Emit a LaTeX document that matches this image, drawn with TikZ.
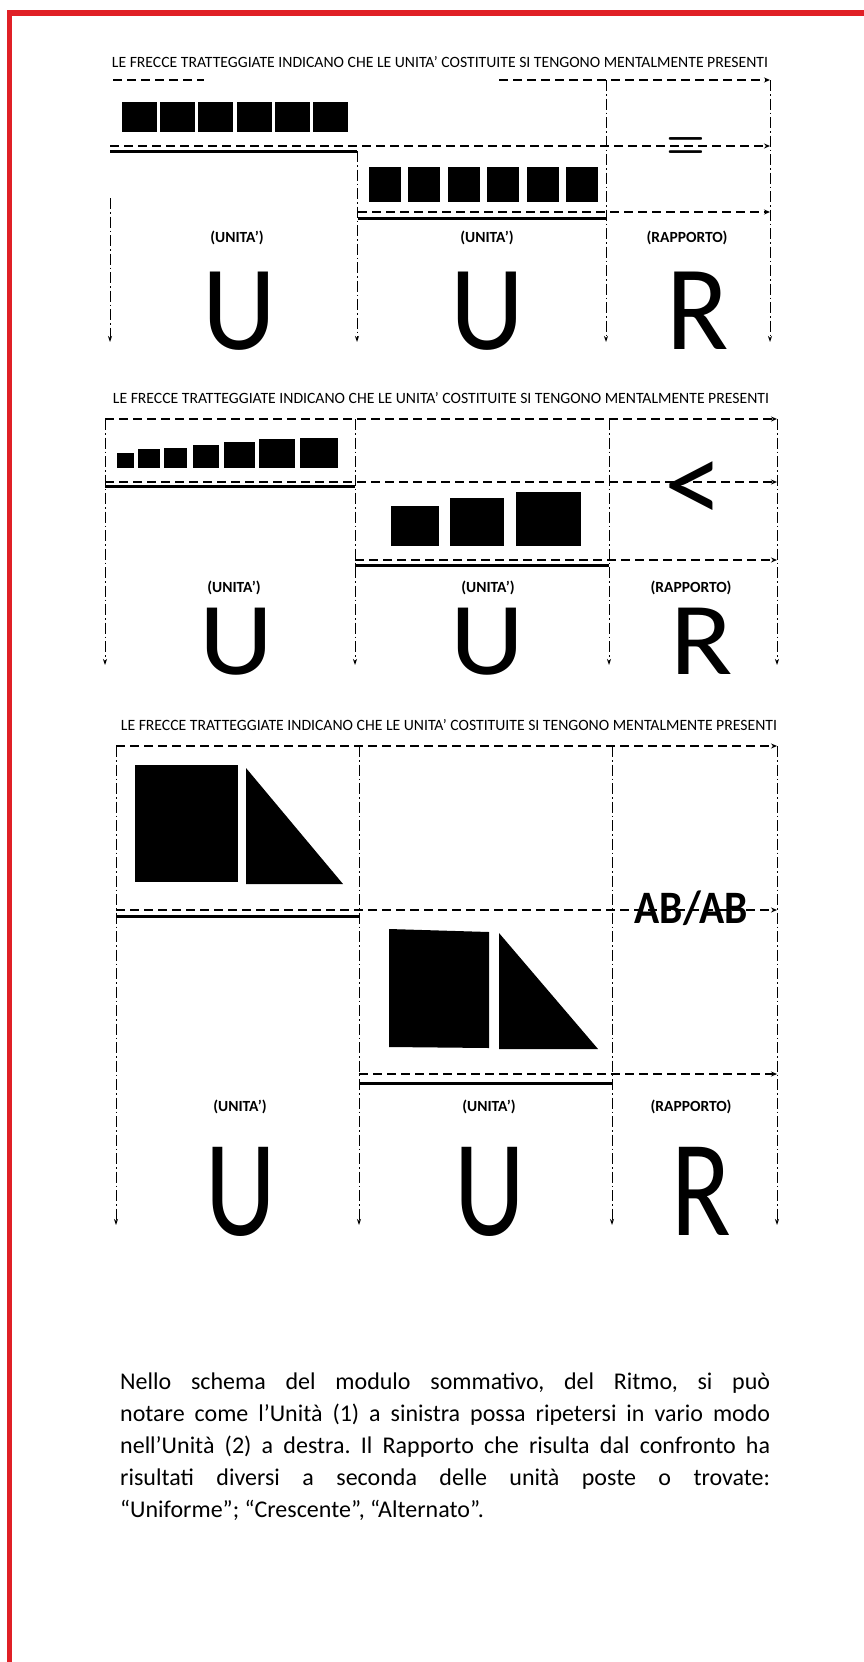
\documentclass[tikz,border=0pt]{standalone}
\usepackage{fontspec}
\setmainfont{Carlito}
\usetikzlibrary{arrows.meta}
\definecolor{framered}{RGB}{224,32,38}
\frenchspacing

\begin{document}
\begin{tikzpicture}[x=1pt, y=-1pt]
    % Define styles
    \tikzstyle{header} = [inner sep=0pt, font=\fontsize{15.7}{16}\selectfont]
    \tikzstyle{caption} = [inner sep=0pt, font=\bfseries\fontsize{15.5}{16}\selectfont]
    \tikzstyle{letter} = [inner sep=0pt, anchor=base, font=\fontsize{115}{115}\selectfont]
    \tikzstyle{block} = [fill=black]
    \tikzstyle{guide} = [line width=1.4pt, dash pattern=on 9pt off 5pt]
    \tikzstyle{guidearrow} = [guide, -{Stealth[length=6pt, width=5pt]}]
    \tikzstyle{colline} = [line width=0.9pt, dash pattern=on 11pt off 3pt on 1.5pt off 3pt, -{Stealth[length=6pt, width=4pt]}]
    \tikzstyle{unitline} = [line width=3pt]

    % Page and red frame
    \path[use as bounding box, fill=white] (0,0) rectangle (864,1662);
    \fill[framered] (7,10) rectangle (864,16);
    \fill[framered] (7,10) rectangle (12,1662);

    % ---------- Scheme 1: uniforme ----------
    \node[header] (head1) at (440,62) {LE FRECCE TRATTEGGIATE INDICANO CHE LE UNITA' COSTITUITE SI TENGONO MENTALMENTE PRESENTI};

    % Columns
    \foreach \n/\x/\ys in {a/110/198, b/357/151, c/606/80, d/770/80} {
        \coordinate (p1\n-top) at (\x,\ys);
        \coordinate (p1\n-bot) at (\x,342);
        \draw[colline] (p1\n-top) -- (p1\n-bot);
    }

    % Dashed lines
    \coordinate (p1-t1) at (113,80);
    \coordinate (p1-t2) at (204,80);
    \coordinate (p1-t3) at (499,80);
    \draw[guide] (p1-t1) -- (p1-t2);
    \draw[guidearrow] (p1-t3) -- (p1d-top);
    \coordinate (p1-m1) at (110,146);
    \coordinate (p1-m2) at (770,146);
    \draw[guidearrow] (p1-m1) -- (p1-m2);
    \coordinate (p1-l1) at (358,212);
    \coordinate (p1-l2) at (770,212);
    \draw[guidearrow] (p1-l1) -- (p1-l2);

    % Unit lines
    \coordinate (p1-s1) at (110,151);
    \coordinate (p1-s2) at (357,151);
    \draw[unitline] (p1-s1) -- (p1-s2);
    \coordinate (p1-b1) at (358,218);
    \coordinate (p1-b2) at (606,218);
    \draw[unitline] (p1-b1) -- (p1-b2);

    % Blocks
    \foreach \i in {0,...,5} {
        \fill[block] ({122+38.2*\i},102) rectangle ++(35,30);
        \fill[block] ({369+39.4*\i},167) rectangle ++(32,35);
    }

    \node[inner sep=0pt, anchor=base] (rel1) at (686,162) {\scalebox{5}[6.8]{$=$}};

    \node[caption] (cap1a) at (237,238) {(UNITA')};
    \node[caption] (cap1b) at (487,238) {(UNITA')};
    \node[caption] (cap1c) at (687,238) {(RAPPORTO)};
    \node[letter] (let1a) at (239,349) {\scalebox{1}[1.05]{U}};
    \node[letter] (let1b) at (487,349) {\scalebox{1}[1.05]{U}};
    \node[letter] (let1c) at (698,349) {\scalebox{1}[1.05]{R}};

    % ---------- Scheme 2: crescente ----------
    \node[header] (head2) at (441,398) {LE FRECCE TRATTEGGIATE INDICANO CHE LE UNITA' COSTITUITE SI TENGONO MENTALMENTE PRESENTI};

    % Columns
    \foreach \n/\x in {a/105, b/355, c/609, d/777} {
        \coordinate (p2\n-top) at (\x,419);
        \coordinate (p2\n-bot) at (\x,665);
        \draw[colline] (p2\n-top) -- (p2\n-bot);
    }

    % Dashed lines
    \draw[guidearrow] (p2a-top) -- (p2d-top);
    \coordinate (p2-m1) at (105,482);
    \coordinate (p2-m2) at (777,482);
    \draw[guidearrow] (p2-m1) -- (p2-m2);
    \coordinate (p2-l1) at (355,560);
    \coordinate (p2-l2) at (777,560);
    \draw[guidearrow] (p2-l1) -- (p2-l2);

    % Unit lines
    \coordinate (p2-s1) at (105,486);
    \coordinate (p2-s2) at (355,486);
    \draw[unitline] (p2-s1) -- (p2-s2);
    \coordinate (p2-b1) at (355,565);
    \coordinate (p2-b2) at (609,565);
    \draw[unitline] (p2-b1) -- (p2-b2);

    % Blocks
    \foreach \xa/\xb/\yt in {117/134/453, 138/160/449, 164/187/448, 193/219/445, 224/255/442, 259/295/439, 300/338/438}
        \fill[block] (\xa,\yt) rectangle (\xb,468);
    \foreach \xa/\xb/\yt in {391/439/506, 450/504/498, 516/581/492}
        \fill[block] (\xa,\yt) rectangle (\xb,546);

    \node[inner sep=0pt, font=\fontsize{118}{118}\selectfont] (rel2) at (694,493) {<};

    \node[caption] (cap2a) at (234,588) {(UNITA')};
    \node[caption] (cap2b) at (488,588) {(UNITA')};
    \node[caption] (cap2c) at (691,588) {(RAPPORTO)};
    \node[letter] (let2a) at (236,674) {\scalebox{1}[0.9]{U}};
    \node[letter] (let2b) at (487,674) {\scalebox{1}[0.9]{U}};
    \node[letter] (let2c) at (702,674) {\scalebox{1}[0.9]{R}};

    % ---------- Scheme 3: alternato ----------
    \node[header] (head3) at (449,725) {LE FRECCE TRATTEGGIATE INDICANO CHE LE UNITA' COSTITUITE SI TENGONO MENTALMENTE PRESENTI};

    % Columns
    \foreach \n/\x in {a/116, b/359, c/612, d/777} {
        \coordinate (p3\n-top) at (\x,746);
        \coordinate (p3\n-bot) at (\x,1225);
        \draw[colline] (p3\n-top) -- (p3\n-bot);
    }

    % Dashed lines
    \draw[guidearrow] (p3a-top) -- (p3d-top);
    \coordinate (p3-m1) at (116,910);
    \coordinate (p3-m2) at (777,910);
    \draw[guidearrow] (p3-m1) -- (p3-m2);
    \coordinate (p3-l1) at (359,1074);
    \coordinate (p3-l2) at (777,1074);
    \draw[guidearrow] (p3-l1) -- (p3-l2);

    % Unit lines
    \coordinate (p3-s1) at (116,916);
    \coordinate (p3-s2) at (359,916);
    \draw[unitline] (p3-s1) -- (p3-s2);
    \coordinate (p3-b1) at (359,1083);
    \coordinate (p3-b2) at (612,1083);
    \draw[unitline] (p3-b1) -- (p3-b2);

    % Blocks
    \fill[block] (135,765) rectangle (238,882);
    \fill[block] (246,768) -- (246,884) -- (343,884) -- cycle;
    \fill[block] (389,929) -- (489,932) -- (489,1048) -- (389,1047) -- cycle;
    \fill[block] (499,933) -- (499,1049) -- (598,1049) -- cycle;

    \node[inner sep=0pt, font=\bfseries\fontsize{41.5}{42}\selectfont] (rel3) at (691,908) {\scalebox{1}[1.12]{AB/AB}};

    \node[caption] (cap3a) at (240,1107) {(UNITA')};
    \node[caption] (cap3b) at (489,1107) {(UNITA')};
    \node[caption] (cap3c) at (691,1107) {(RAPPORTO)};
    \node[letter, font=\fontsize{110}{110}\selectfont] (let3a) at (241,1235) {\scalebox{1}[1.25]{U}};
    \node[letter, font=\fontsize{110}{110}\selectfont] (let3b) at (490,1235) {\scalebox{1}[1.25]{U}};
    \node[letter, font=\fontsize{110}{110}\selectfont] (let3c) at (701,1235) {\scalebox{1}[1.25]{R}};

    % Note
    \node[anchor=north west, inner sep=0pt, text width=650pt, align=justify, font=\fontsize{24}{32}\selectfont] (note) at (120,1373)
        {Nello schema del modulo sommativo, del Ritmo, si può\linebreak
         notare come l'Unità (1) a sinistra possa ripetersi in vario modo\linebreak
         nell'Unità (2) a destra. Il Rapporto che risulta dal confronto ha\linebreak
         risultati diversi a seconda delle unità poste o trovate:\linebreak
         “Uniforme”; “Crescente”, “Alternato”.};
\end{tikzpicture}
\end{document}
